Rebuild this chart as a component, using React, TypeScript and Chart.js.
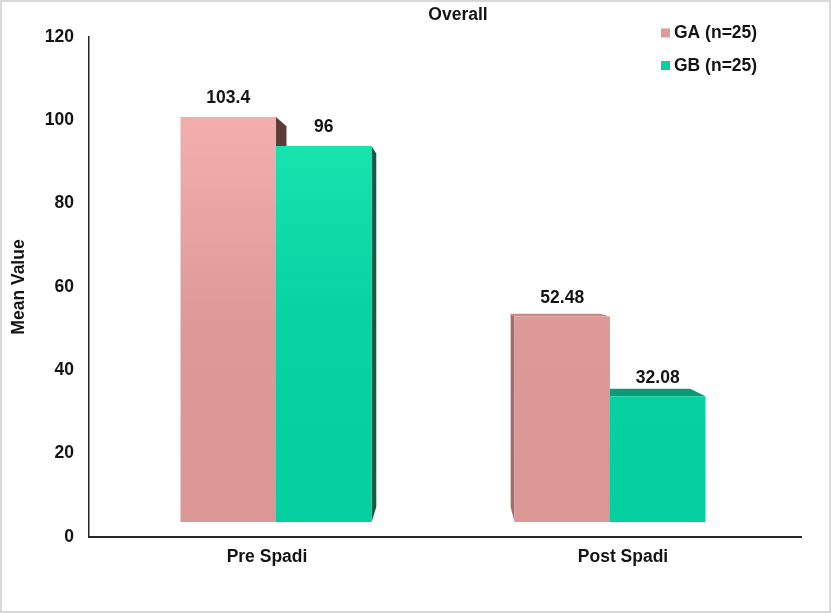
import React, { useEffect, useRef } from "react";
import { Chart, registerables } from "chart.js";

Chart.register(...registerables);

// ---- data ----
const categories = ["Pre Spadi", "Post Spadi"];
const seriesLabels = ["GA (n=25)", "GB (n=25)"];
const gaValues = [103.4, 52.48];
const gbValues = [96, 32.08];
const yTicks = [0, 20, 40, 60, 80, 100, 120];
const chartTitle = "Overall";
const yAxisTitle = "Mean Value";

// ---- style ----
const FONT = '"Liberation Sans", Arial, Helvetica, sans-serif';
const TEXT = "#141414";
const FS = 17.5;
const legendColors = ["#DE9A98", "#06D1A0"];
const gaStops: [number, string][] = [
  [0, "#F7B5B4"],
  [0.2, "#F1ADAC"],
  [0.58, "#DC9997"],
  [1, "#DA9795"],
];
const gbStops: [number, string][] = [
  [0, "#1DE9B5"],
  [0.22, "#17E3AF"],
  [0.58, "#06D2A2"],
  [1, "#03CF9F"],
];
const faceColors = [
  { left: "#A36D6C", right: "#5E3B3B", top: "#C98987" },
  { left: "#0A8A69", right: "#0B5D46", top: "#0A9A74" },
];

function gradientFor(stops: [number, string][], fallback: string) {
  return (ctx: any) => {
    const chart = ctx.chart;
    const ca = chart.chartArea;
    if (!ca) return fallback;
    const g = chart.ctx.createLinearGradient(0, ca.top, 0, ca.bottom);
    stops.forEach(([p, c]) => g.addColorStop(p, c));
    return g;
  };
}

const facesPlugin = {
  id: "faces3d",
  beforeDatasetsDraw(chart: any) {
    const ca = chart.chartArea;
    const ctx = chart.ctx;
    const vx = ca.left + (ca.right - ca.left) * 0.508;
    const vy = ca.top + (ca.bottom - ca.top) * 0.466;
    const k = 0.06;
    const back = (px: number, py: number) => [px + (vx - px) * k, py + (vy - py) * k];
    chart.data.datasets.forEach((ds: any, di: number) => {
      const meta = chart.getDatasetMeta(di);
      const fc = faceColors[di];
      meta.data.forEach((el: any) => {
        const { x, y, base, width } = el.getProps(["x", "y", "base", "width"], true);
        const L = x - width / 2;
        const R = x + width / 2;
        const T = Math.min(y, base);
        const B = Math.max(y, base);
        const poly = (pts: number[][], color: string) => {
          ctx.save();
          ctx.fillStyle = color;
          ctx.beginPath();
          ctx.moveTo(pts[0][0], pts[0][1]);
          for (let i = 1; i < pts.length; i++) ctx.lineTo(pts[i][0], pts[i][1]);
          ctx.closePath();
          ctx.fill();
          ctx.restore();
        };
        if (vx > R) {
          poly([[R, T], back(R, T), back(R, B), [R, B]], fc.right);
        }
        if (vx < L) {
          poly([[L, T], back(L, T), back(L, B), [L, B]], fc.left);
        }
        if (vy < T) {
          poly([[L, T], [R, T], back(R, T), back(L, T)], fc.top);
        }
      });
    });
  },
};

const labelsPlugin = {
  id: "valueLabels",
  afterDatasetsDraw(chart: any) {
    const ctx = chart.ctx;
    ctx.save();
    ctx.font = `bold ${FS}px ${FONT}`;
    ctx.fillStyle = TEXT;
    ctx.textAlign = "center";
    ctx.textBaseline = "middle";
    chart.data.datasets.forEach((ds: any, di: number) => {
      const meta = chart.getDatasetMeta(di);
      meta.data.forEach((el: any, i: number) => {
        const { x, y } = el.getProps(["x", "y"], true);
        ctx.fillText(String(ds.data[i].y), x, y - 18.5);
      });
    });
    ctx.restore();
  },
};

const decorPlugin = {
  id: "decor",
  afterDraw(chart: any) {
    const ctx = chart.ctx;
    const ca = chart.chartArea;
    ctx.save();
    ctx.fillStyle = TEXT;
    ctx.font = `bold ${FS}px ${FONT}`;
    ctx.textBaseline = "middle";
    ctx.textAlign = "center";
    ctx.fillText(chartTitle, (ca.left + ca.right) / 2 + 13, 15);
    // legend
    const lx = ca.right - 140;
    chart.data.datasets.forEach((ds: any, i: number) => {
      const cy = ca.top - 4 + i * 32.5;
      ctx.fillStyle = legendColors[i];
      ctx.fillRect(lx, cy - 4.5, 9, 9);
      ctx.fillStyle = TEXT;
      ctx.textAlign = "left";
      ctx.fillText(ds.label, lx + 13, cy + 0.5);
    });
    ctx.restore();
  },
};

export default function App() {
  const ref = useRef<HTMLCanvasElement | null>(null);
  useEffect(() => {
    document.body.style.margin = "0";
    const canvas = ref.current;
    if (!canvas) return;
    const font = { family: FONT, size: FS, weight: "bold" as const };
    const chart = new Chart(canvas, {
      type: "bar",
      data: {
        labels: categories,
        datasets: [
          {
            label: seriesLabels[0],
            data: gaValues.map((v, i) => ({ x: i, y: v })),
            backgroundColor: gradientFor(gaStops, legendColors[0]),
            xAxisID: "x2",
            yAxisID: "y2",
            borderWidth: 0,
          },
          {
            label: seriesLabels[1],
            data: gbValues.map((v, i) => ({ x: i, y: v })),
            backgroundColor: gradientFor(gbStops, legendColors[1]),
            xAxisID: "x2",
            yAxisID: "y2",
            borderWidth: 0,
          },
        ],
      },
      options: {
        responsive: false,
        animation: false,
        devicePixelRatio: 1,
        layout: { padding: { left: 0, right: 30, top: 37, bottom: 0 } },
        datasets: { bar: { categoryPercentage: 0.572, barPercentage: 1 } },
        plugins: {
          legend: { display: false },
          title: { display: false },
          tooltip: { enabled: false },
        },
        scales: {
          x: {
            type: "category",
            labels: categories,
            offset: true,
            grid: { display: false, drawTicks: false },
            border: { display: true, color: "#262626", width: 2 },
            ticks: { font, color: TEXT, padding: 10 },
            afterFit: (s: any) => {
              s.height = 76;
            },
          },
          x2: {
            type: "linear",
            display: false,
            offset: false,
            min: -0.56,
            max: 1.572,
            afterBuildTicks: (s: any) => {
              s.ticks = categories.map((_, i) => ({ value: i }));
            },
          },
          y: {
            min: 0,
            max: 120,
            afterBuildTicks: (s: any) => {
              s.ticks = yTicks.map((v) => ({ value: v }));
            },
            ticks: { font, color: TEXT, padding: 15 },
            grid: { display: false, drawTicks: false },
            border: { display: true, color: "#262626", width: 1.5 },
            title: {
              display: true,
              text: yAxisTitle,
              font,
              color: TEXT,
              padding: { top: 8.5, bottom: 0 },
            },
            afterFit: (s: any) => {
              s.width = 89;
            },
          },
          y2: {
            display: false,
            min: -3.83,
            max: 123.83,
          },
        },
      },
      plugins: [facesPlugin, labelsPlugin, decorPlugin],
    });
    return () => chart.destroy();
  }, []);

  return (
    <div style={{ position: "relative", width: 831, height: 613, background: "#fff" }}>
      <canvas ref={ref} width={831} height={613} style={{ display: "block" }} />
      <div
        style={{
          position: "absolute",
          left: 0,
          top: 0,
          width: 831,
          height: 613,
          boxSizing: "border-box",
          border: "2px solid #D9D9D9",
          pointerEvents: "none",
        }}
      />
    </div>
  );
}
